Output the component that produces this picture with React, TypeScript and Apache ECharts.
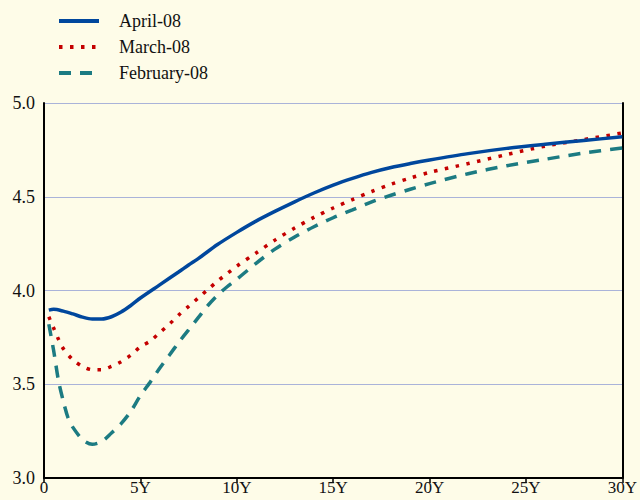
import React, { useEffect, useRef } from "react";
import * as echarts from "echarts";

const seriesNames = ["April-08", "March-08", "February-08"];
const xTickLabels = ["0", "5Y", "10Y", "15Y", "20Y", "25Y", "30Y"];

const aprilYears = [0.25, 0.5, 1, 1.5, 2, 2.5, 3, 3.5, 4, 4.5, 5, 6, 7, 7.5, 8, 9, 10, 11, 12, 13, 14, 15, 16, 17, 18, 19, 20, 22, 24, 26, 28, 30];
const aprilValues = [3.895, 3.9, 3.89, 3.875, 3.858, 3.848, 3.848, 3.86, 3.885, 3.92, 3.96, 4.03, 4.1, 4.136, 4.17, 4.245, 4.31, 4.37, 4.423, 4.473, 4.52, 4.562, 4.598, 4.63, 4.656, 4.677, 4.696, 4.73, 4.758, 4.78, 4.8, 4.82];

const marchYears = [0.25, 0.5, 0.75, 1, 1.5, 2, 2.5, 3, 3.5, 4, 4.5, 5, 5.5, 6, 6.5, 7, 7.5, 8, 8.5, 9, 9.5, 10, 11, 12, 13, 14, 15, 16, 17, 18, 19, 20, 22, 24, 26, 28, 30];
const marchValues = [3.86, 3.8, 3.74, 3.69, 3.63, 3.595, 3.578, 3.578, 3.595, 3.62, 3.655, 3.7, 3.73, 3.775, 3.82, 3.87, 3.915, 3.96, 4.005, 4.05, 4.09, 4.13, 4.2, 4.27, 4.333, 4.39, 4.44, 4.485, 4.528, 4.567, 4.6, 4.63, 4.677, 4.725, 4.77, 4.805, 4.84];

const febYears = [0.25, 0.5, 0.75, 1, 1.25, 1.5, 2, 2.5, 3, 3.5, 4, 4.5, 5, 5.5, 6, 6.5, 7, 7.5, 8, 8.5, 9, 9.5, 10, 11, 12, 13, 14, 15, 16, 17, 18, 19, 20, 22, 24, 26, 28, 30];
const febValues = [3.82, 3.68, 3.52, 3.41, 3.32, 3.27, 3.205, 3.18, 3.195, 3.24, 3.29, 3.355, 3.44, 3.51, 3.585, 3.655, 3.725, 3.79, 3.855, 3.92, 3.975, 4.02, 4.06, 4.145, 4.222, 4.285, 4.34, 4.388, 4.43, 4.473, 4.508, 4.54, 4.57, 4.623, 4.665, 4.7, 4.733, 4.76];

const pairs = (xs: number[], ys: number[]) => xs.map((x, i) => [x, ys[i]]);

const FONT = "Liberation Serif";

export default function App() {
  const ref = useRef<HTMLDivElement>(null);
  useEffect(() => {
    if (!ref.current) return;
    const chart = echarts.init(ref.current, undefined, { renderer: "svg" });
    chart.setOption({
      animation: false,
      backgroundColor: "#fefce8",
      textStyle: { fontFamily: FONT },
      legend: {
        orient: "vertical",
        left: 57,
        top: 12,
        padding: 0,
        itemWidth: 40,
        itemHeight: 16,
        itemGap: 8,
        itemStyle: { opacity: 0 },
        lineStyle: { width: 4 },
        textStyle: { fontFamily: FONT, fontSize: 18, color: "#111", padding: [0, 0, 0, 15] },
        data: seriesNames,
      },
      grid: { left: 44, right: 16, top: 103, bottom: 22, containLabel: false },
      xAxis: {
        type: "value",
        min: 0,
        max: 30,
        interval: 5,
        axisLine: { show: true, lineStyle: { color: "#000", width: 2 } },
        axisTick: { show: true, length: 5, lineStyle: { color: "#000", width: 1.5 } },
        axisLabel: {
          fontFamily: FONT,
          fontSize: 17,
          color: "#111",
          margin: 1,
          formatter: (v: number) => xTickLabels[Math.round(v / 5)] ?? "",
        },
        splitLine: { show: false },
      },
      yAxis: [
        {
          type: "value",
          min: 3,
          max: 5,
          interval: 0.5,
          axisLine: { show: true, lineStyle: { color: "#000", width: 2 } },
          axisTick: { show: false },
          axisLabel: {
            fontFamily: FONT,
            fontSize: 18,
            color: "#111",
            margin: 9,
            formatter: (v: number) => v.toFixed(1),
          },
          splitLine: { show: true, lineStyle: { color: "#aab3d9", width: 1 } },
        },
        {
          type: "value",
          position: "right",
          min: 3,
          max: 5,
          interval: 0.5,
          axisLine: { show: true, lineStyle: { color: "#000", width: 2 } },
          axisTick: { show: false },
          axisLabel: { show: false },
          splitLine: { show: false },
        },
      ],
      series: [
        {
          name: seriesNames[0],
          type: "line",
          data: pairs(aprilYears, aprilValues),
          smooth: 0.3,
          showSymbol: false,
          symbol: "none",
          lineStyle: { color: "#00479d", width: 3.5, type: "solid" },
          itemStyle: { color: "#00479d" },
          z: 5,
        },
        {
          name: seriesNames[1],
          type: "line",
          data: pairs(marchYears, marchValues),
          smooth: 0.3,
          showSymbol: false,
          symbol: "none",
          lineStyle: { color: "#c40000", width: 3.5, type: [3.5, 7.5] },
          itemStyle: { color: "#c40000" },
          z: 4,
        },
        {
          name: seriesNames[2],
          type: "line",
          data: pairs(febYears, febValues),
          smooth: 0.3,
          showSymbol: false,
          symbol: "none",
          lineStyle: { color: "#1c7b82", width: 3.5, type: [12, 9] },
          itemStyle: { color: "#1c7b82" },
          z: 3,
        },
      ],
    });
    return () => chart.dispose();
  }, []);
  return (
    <div
      ref={ref}
      style={{ position: "absolute", left: 0, top: 0, width: 640, height: 500 }}
    />
  );
}
